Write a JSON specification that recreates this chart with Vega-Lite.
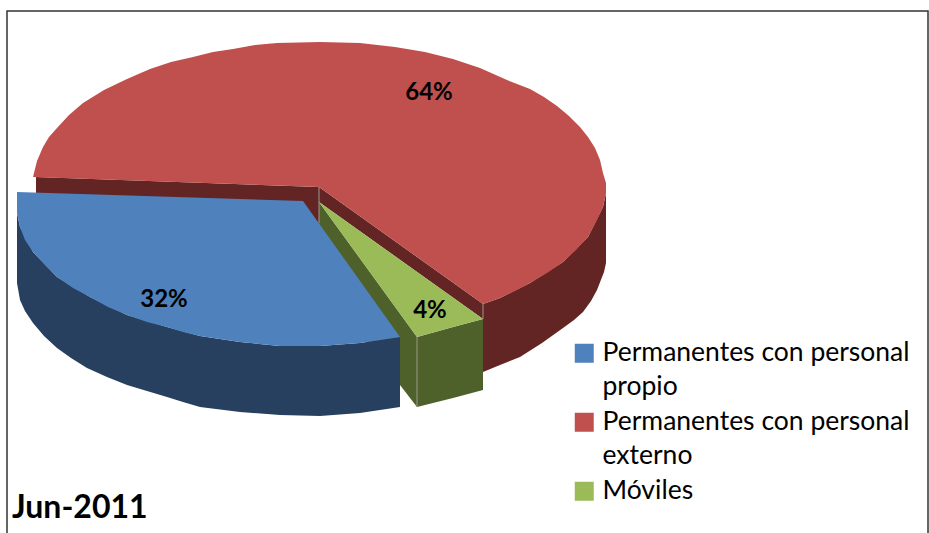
{"$schema":"https://vega.github.io/schema/vega-lite/v6.json","width":929,"height":533,"autosize":"none","padding":0,"background":"white","config":{"view":{"stroke":null},"style":{"guide-label":{"lineHeight":34}}},"datasets":{"contorno":[
{"poly":"a","parte":"Externo lateral","n":1,"x":36,"y":177},{"poly":"a","parte":"Externo lateral","n":2,"x":319,"y":187},{"poly":"a","parte":"Externo lateral","n":3,"x":319,"y":225},{"poly":"a","parte":"Externo lateral","n":4,"x":36,"y":200},
{"poly":"b","parte":"Externo lateral","n":1,"x":319,"y":187},{"poly":"b","parte":"Externo lateral","n":2,"x":483,"y":304},{"poly":"b","parte":"Externo lateral","n":3,"x":483,"y":319},{"poly":"b","parte":"Externo lateral","n":4,"x":319,"y":202},
{"poly":"c","parte":"Externo lateral","n":1,"x":606,"y":193},{"poly":"c","parte":"Externo lateral","n":2,"x":603,"y":207},{"poly":"c","parte":"Externo lateral","n":3,"x":588,"y":237},{"poly":"c","parte":"Externo lateral","n":4,"x":563,"y":262},{"poly":"c","parte":"Externo lateral","n":5,"x":530,"y":283},{"poly":"c","parte":"Externo lateral","n":6,"x":500,"y":298},{"poly":"c","parte":"Externo lateral","n":7,"x":483,"y":304},{"poly":"c","parte":"Externo lateral","n":8,"x":483,"y":372},{"poly":"c","parte":"Externo lateral","n":9,"x":520,"y":357},{"poly":"c","parte":"Externo lateral","n":10,"x":563,"y":328},{"poly":"c","parte":"Externo lateral","n":11,"x":583,"y":312},{"poly":"c","parte":"Externo lateral","n":12,"x":597,"y":290},{"poly":"c","parte":"Externo lateral","n":13,"x":604,"y":272},{"poly":"c","parte":"Externo lateral","n":14,"x":606,"y":263},
{"poly":"d","parte":"Permanentes con personal externo","n":1,"x":33,"y":177},{"poly":"d","parte":"Permanentes con personal externo","n":2,"x":43,"y":147},{"poly":"d","parte":"Permanentes con personal externo","n":3,"x":57,"y":128},{"poly":"d","parte":"Permanentes con personal externo","n":4,"x":83,"y":103},{"poly":"d","parte":"Permanentes con personal externo","n":5,"x":127,"y":79},{"poly":"d","parte":"Permanentes con personal externo","n":6,"x":150,"y":69},{"poly":"d","parte":"Permanentes con personal externo","n":7,"x":193,"y":57},{"poly":"d","parte":"Permanentes con personal externo","n":8,"x":233,"y":49},{"poly":"d","parte":"Permanentes con personal externo","n":9,"x":277,"y":43},{"poly":"d","parte":"Permanentes con personal externo","n":10,"x":360,"y":43},{"poly":"d","parte":"Permanentes con personal externo","n":11,"x":425,"y":52},{"poly":"d","parte":"Permanentes con personal externo","n":12,"x":480,"y":68},{"poly":"d","parte":"Permanentes con personal externo","n":13,"x":507,"y":80},{"poly":"d","parte":"Permanentes con personal externo","n":14,"x":530,"y":89},{"poly":"d","parte":"Permanentes con personal externo","n":15,"x":557,"y":106},{"poly":"d","parte":"Permanentes con personal externo","n":16,"x":580,"y":127},{"poly":"d","parte":"Permanentes con personal externo","n":17,"x":595,"y":148},{"poly":"d","parte":"Permanentes con personal externo","n":18,"x":603,"y":173},{"poly":"d","parte":"Permanentes con personal externo","n":19,"x":606,"y":193},{"poly":"d","parte":"Permanentes con personal externo","n":20,"x":603,"y":207},{"poly":"d","parte":"Permanentes con personal externo","n":21,"x":588,"y":237},{"poly":"d","parte":"Permanentes con personal externo","n":22,"x":563,"y":262},{"poly":"d","parte":"Permanentes con personal externo","n":23,"x":530,"y":283},{"poly":"d","parte":"Permanentes con personal externo","n":24,"x":500,"y":298},{"poly":"d","parte":"Permanentes con personal externo","n":25,"x":483,"y":304},{"poly":"d","parte":"Permanentes con personal externo","n":26,"x":319,"y":187},
{"poly":"e","parte":"Moviles lateral","n":1,"x":319,"y":202},{"poly":"e","parte":"Moviles lateral","n":2,"x":417,"y":337},{"poly":"e","parte":"Moviles lateral","n":3,"x":417,"y":407},{"poly":"e","parte":"Moviles lateral","n":4,"x":400,"y":385},{"poly":"e","parte":"Moviles lateral","n":5,"x":319,"y":275},
{"poly":"f","parte":"Moviles lateral","n":1,"x":417,"y":337},{"poly":"f","parte":"Moviles lateral","n":2,"x":453,"y":327},{"poly":"f","parte":"Moviles lateral","n":3,"x":483,"y":319},{"poly":"f","parte":"Moviles lateral","n":4,"x":483,"y":390},{"poly":"f","parte":"Moviles lateral","n":5,"x":453,"y":398},{"poly":"f","parte":"Moviles lateral","n":6,"x":417,"y":407},
{"poly":"g","parte":"Móviles","n":1,"x":319,"y":202},{"poly":"g","parte":"Móviles","n":2,"x":483,"y":319},{"poly":"g","parte":"Móviles","n":3,"x":453,"y":327},{"poly":"g","parte":"Móviles","n":4,"x":417,"y":337},
{"poly":"h","parte":"Propio lateral","n":1,"x":17,"y":213},{"poly":"h","parte":"Propio lateral","n":2,"x":20,"y":227},{"poly":"h","parte":"Propio lateral","n":3,"x":33,"y":252},{"poly":"h","parte":"Propio lateral","n":4,"x":57,"y":277},{"poly":"h","parte":"Propio lateral","n":5,"x":90,"y":297},{"poly":"h","parte":"Propio lateral","n":6,"x":127,"y":315},{"poly":"h","parte":"Propio lateral","n":7,"x":167,"y":327},{"poly":"h","parte":"Propio lateral","n":8,"x":200,"y":336},{"poly":"h","parte":"Propio lateral","n":9,"x":240,"y":342},{"poly":"h","parte":"Propio lateral","n":10,"x":280,"y":346},{"poly":"h","parte":"Propio lateral","n":11,"x":320,"y":346},{"poly":"h","parte":"Propio lateral","n":12,"x":360,"y":343},{"poly":"h","parte":"Propio lateral","n":13,"x":400,"y":337},{"poly":"h","parte":"Propio lateral","n":14,"x":400,"y":407},{"poly":"h","parte":"Propio lateral","n":15,"x":360,"y":413},{"poly":"h","parte":"Propio lateral","n":16,"x":320,"y":416},{"poly":"h","parte":"Propio lateral","n":17,"x":280,"y":415},{"poly":"h","parte":"Propio lateral","n":18,"x":240,"y":412},{"poly":"h","parte":"Propio lateral","n":19,"x":200,"y":407},{"poly":"h","parte":"Propio lateral","n":20,"x":167,"y":397},{"poly":"h","parte":"Propio lateral","n":21,"x":127,"y":385},{"poly":"h","parte":"Propio lateral","n":22,"x":87,"y":368},{"poly":"h","parte":"Propio lateral","n":23,"x":57,"y":348},{"poly":"h","parte":"Propio lateral","n":24,"x":33,"y":323},{"poly":"h","parte":"Propio lateral","n":25,"x":20,"y":300},{"poly":"h","parte":"Propio lateral","n":26,"x":17,"y":283},
{"poly":"i","parte":"Permanentes con personal propio","n":1,"x":17,"y":192},{"poly":"i","parte":"Permanentes con personal propio","n":2,"x":303,"y":201},{"poly":"i","parte":"Permanentes con personal propio","n":3,"x":400,"y":337},{"poly":"i","parte":"Permanentes con personal propio","n":4,"x":360,"y":343},{"poly":"i","parte":"Permanentes con personal propio","n":5,"x":320,"y":346},{"poly":"i","parte":"Permanentes con personal propio","n":6,"x":280,"y":346},{"poly":"i","parte":"Permanentes con personal propio","n":7,"x":240,"y":342},{"poly":"i","parte":"Permanentes con personal propio","n":8,"x":200,"y":336},{"poly":"i","parte":"Permanentes con personal propio","n":9,"x":167,"y":327},{"poly":"i","parte":"Permanentes con personal propio","n":10,"x":127,"y":315},{"poly":"i","parte":"Permanentes con personal propio","n":11,"x":90,"y":297},{"poly":"i","parte":"Permanentes con personal propio","n":12,"x":57,"y":277},{"poly":"i","parte":"Permanentes con personal propio","n":13,"x":33,"y":252},{"poly":"i","parte":"Permanentes con personal propio","n":14,"x":20,"y":227},{"poly":"i","parte":"Permanentes con personal propio","n":15,"x":17,"y":213},
{"poly":"c","parte":"Externo lateral","n":8.5,"x":500,"y":365},{"poly":"c","parte":"Externo lateral","n":9.5,"x":542,"y":343},{"poly":"c","parte":"Externo lateral","n":10.5,"x":574,"y":320},{"poly":"c","parte":"Externo lateral","n":11.5,"x":591,"y":301},
{"poly":"d","parte":"Permanentes con personal externo","n":1.5,"x":37,"y":161},{"poly":"d","parte":"Permanentes con personal externo","n":2.5,"x":49,"y":137},{"poly":"d","parte":"Permanentes con personal externo","n":3.5,"x":69,"y":115},{"poly":"d","parte":"Permanentes con personal externo","n":4.5,"x":104,"y":90},{"poly":"d","parte":"Permanentes con personal externo","n":6.5,"x":171,"y":62},{"poly":"d","parte":"Permanentes con personal externo","n":7.5,"x":213,"y":52},{"poly":"d","parte":"Permanentes con personal externo","n":8.5,"x":255,"y":45},{"poly":"d","parte":"Permanentes con personal externo","n":9.5,"x":320,"y":42},{"poly":"d","parte":"Permanentes con personal externo","n":10.5,"x":395,"y":47},{"poly":"d","parte":"Permanentes con personal externo","n":11.5,"x":453,"y":59},{"poly":"d","parte":"Permanentes con personal externo","n":14.5,"x":544,"y":97},{"poly":"d","parte":"Permanentes con personal externo","n":15.5,"x":569,"y":116},{"poly":"d","parte":"Permanentes con personal externo","n":16.5,"x":588,"y":137},{"poly":"d","parte":"Permanentes con personal externo","n":17.5,"x":600,"y":160},{"poly":"d","parte":"Permanentes con personal externo","n":18.5,"x":606,"y":183},{"poly":"d","parte":"Permanentes con personal externo","n":20.5,"x":596,"y":222},{"poly":"d","parte":"Permanentes con personal externo","n":21.5,"x":576,"y":250},{"poly":"d","parte":"Permanentes con personal externo","n":22.5,"x":547,"y":273},{"poly":"d","parte":"Permanentes con personal externo","n":23.5,"x":515,"y":291},
{"poly":"h","parte":"Propio lateral","n":19.5,"x":183,"y":402},{"poly":"h","parte":"Propio lateral","n":20.5,"x":147,"y":391},{"poly":"h","parte":"Propio lateral","n":21.5,"x":107,"y":377},{"poly":"h","parte":"Propio lateral","n":22.5,"x":71,"y":358},{"poly":"h","parte":"Propio lateral","n":23.5,"x":44,"y":336},{"poly":"h","parte":"Propio lateral","n":24.5,"x":25,"y":311},
{"poly":"i","parte":"Permanentes con personal propio","n":7.5,"x":220,"y":339},{"poly":"i","parte":"Permanentes con personal propio","n":8.5,"x":183,"y":332},{"poly":"i","parte":"Permanentes con personal propio","n":9.5,"x":147,"y":322},{"poly":"i","parte":"Permanentes con personal propio","n":10.5,"x":108,"y":307},{"poly":"i","parte":"Permanentes con personal propio","n":11.5,"x":73,"y":288},{"poly":"i","parte":"Permanentes con personal propio","n":12.5,"x":45,"y":265},{"poly":"i","parte":"Permanentes con personal propio","n":13.5,"x":25,"y":240}
],"aristas":[
{"id":"a","n":1,"x":319,"y":187},{"id":"a","n":2,"x":319,"y":223},
{"id":"b","n":1,"x":483,"y":304},{"id":"b","n":2,"x":483,"y":319},
{"id":"c","n":1,"x":417,"y":337},{"id":"c","n":2,"x":417,"y":407}
],"marco":[{"n":1,"x":7,"y":533},{"n":2,"x":7,"y":11},{"n":3,"x":928,"y":11},{"n":4,"x":928,"y":533}],
"sectores":[{"nombre":"Permanentes con personal externo","valor":0.64,"x":429,"y":93},{"nombre":"Permanentes con personal propio","valor":0.32,"x":164,"y":300},{"nombre":"Móviles","valor":0.04,"x":430,"y":311}],
"titulo":[{"texto":"Jun-2011","x":12,"y":508}]},
"layer":[
{"data":{"name":"contorno"},"mark":{"type":"line","strokeWidth":0,"interpolate":"linear"},"encoding":{"x":{"field":"x","type":"quantitative","scale":{"domain":[0,929],"nice":false},"axis":null},"y":{"field":"y","type":"quantitative","scale":{"domain":[533,0],"nice":false},"axis":null},"order":{"field":"n","type":"quantitative"},"detail":{"field":"poly"},"fill":{"field":"parte","type":"nominal","scale":{"domain":["Permanentes con personal propio","Permanentes con personal externo","Móviles","Propio lateral","Externo lateral","Moviles lateral"],"range":["#4F81BD","#C0504D","#9BBB59","#274060","#622524","#4F612B"]},"legend":{"values":["Permanentes con personal propio","Permanentes con personal externo","Móviles"],"title":null,"orient":"none","legendX":571,"legendY":340,"symbolType":"square","symbolSize":361,"symbolStrokeWidth":0,"labelFont":"Lato","labelFontSize":26.5,"labelColor":"#000000","labelLimit":400,"labelOffset":5,"rowPadding":8,"labelExpr":"split(replace(datum.label,'personal ','personal\\n'),'\\n')"}}}},
{"data":{"name":"aristas"},"mark":{"type":"line","stroke":"#9a9a8a","strokeWidth":1},"encoding":{"x":{"field":"x","type":"quantitative"},"y":{"field":"y","type":"quantitative"},"order":{"field":"n","type":"quantitative"},"detail":{"field":"id"}}},
{"data":{"name":"marco"},"mark":{"type":"line","stroke":"#333333","strokeWidth":1.5},"encoding":{"x":{"field":"x","type":"quantitative"},"y":{"field":"y","type":"quantitative"},"order":{"field":"n","type":"quantitative"}}},
{"data":{"name":"sectores"},"mark":{"type":"text","font":"Lato","fontWeight":"bold","fontSize":24,"color":"#000000"},"encoding":{"x":{"field":"x","type":"quantitative"},"y":{"field":"y","type":"quantitative"},"text":{"field":"valor","type":"quantitative","format":".0%"}}},
{"data":{"name":"titulo"},"mark":{"type":"text","font":"Lato","fontWeight":"bold","fontSize":32,"color":"#000000","align":"left"},"encoding":{"x":{"field":"x","type":"quantitative"},"y":{"field":"y","type":"quantitative"},"text":{"field":"texto"}}}
]}
